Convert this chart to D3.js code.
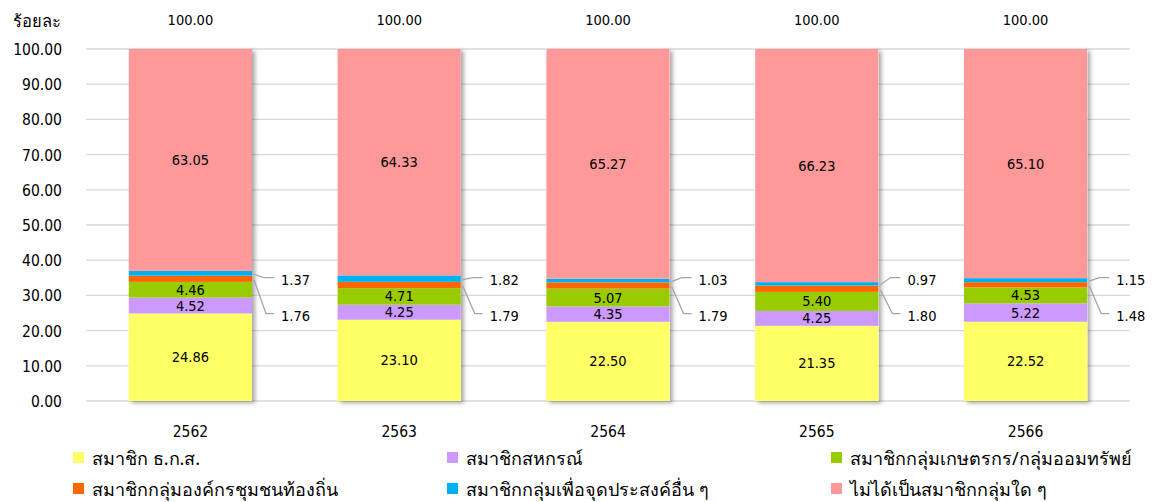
<!DOCTYPE html>
<html><head><meta charset="utf-8">
<script src="https://cdn.jsdelivr.net/npm/d3@7"></script>
<style>
body{margin:0;background:#fff;}
text{font-family:"DejaVu Sans Condensed","DejaVu Sans",sans-serif;font-stretch:condensed;fill:#000;}
text.th{font-family:Tahoma,"Noto Sans","DejaVu Sans",sans-serif;font-stretch:normal;}
</style></head>
<body>
<svg id="chart" width="1161" height="502"></svg>
<script>
const years = ["2562","2563","2564","2565","2566"];
const seriesNames = ["สมาชิก ธ.ก.ส.","สมาชิกสหกรณ์","สมาชิกกลุ่มเกษตรกร/กลุ่มออมทรัพย์","สมาชิกกลุ่มองค์กรชุมชนท้องถิ่น","สมาชิกกลุ่มเพื่อจุดประสงค์อื่น ๆ","ไม่ได้เป็นสมาชิกกลุ่มใด ๆ"];
const baac = [24.86,23.10,22.50,21.35,22.52];
const coop = [4.52,4.25,4.35,4.25,5.22];
const farmer = [4.46,4.71,5.07,5.40,4.53];
const community = [1.76,1.79,1.79,1.80,1.48];
const otherGroup = [1.37,1.82,1.03,0.97,1.15];
const none = [63.05,64.33,65.27,66.23,65.10];
const totals = [100.00,100.00,100.00,100.00,100.00];
const yTicks = [0,10,20,30,40,50,60,70,80,90,100];
const colors = ["#FFFF66","#CC99FF","#99CC00","#FF6600","#00B0F0","#FF9999"];

const svg = d3.select("#chart");
const x = d3.scaleBand().domain(years).range([86,1130]).paddingInner(0.41).paddingOuter(0.205);
const y = d3.scaleLinear().domain([0,100]).range([401,49]);
const fmt = d3.format(".2f");

const defs = svg.append("defs");
const f = defs.append("filter").attr("id","sh").attr("x","-10%").attr("y","-10%").attr("width","130%").attr("height","130%");
f.append("feDropShadow").attr("dx",3).attr("dy",2).attr("stdDeviation",2).attr("flood-color","#000").attr("flood-opacity",0.35);

// grid
svg.append("g").selectAll("line").data(yTicks).join("line")
  .attr("x1",86).attr("x2",1130).attr("y1",d=>y(d)).attr("y2",d=>y(d))
  .attr("stroke","#D9D9D9").attr("stroke-width",1.3);

// y axis labels
const yAxis = d3.axisLeft(y).tickValues(yTicks).tickFormat(fmt).tickSize(0).tickPadding(24);
const ya = svg.append("g").attr("transform","translate(86,0)").call(yAxis);
ya.select(".domain").remove();
ya.selectAll("text").attr("font-size",15.5).attr("font-family",null).attr("dy","0.35em");
ya.attr("font-family",null);

svg.append("text").attr("class","th").attr("x",13).attr("y",27).attr("font-size",16.5).text("ร้อยละ");

// stack
const rows = years.map((yr,i)=>({year:yr, s0:baac[i], s1:coop[i], s2:farmer[i], s3:community[i], s4:otherGroup[i], s5:none[i]}));
const keys = ["s0","s1","s2","s3","s4","s5"];
const stack = d3.stack().keys(keys)(rows);

const barG = svg.append("g");
barG.selectAll("rect.shadow").data(rows).join("rect")
  .attr("x",d=>x(d.year)).attr("width",x.bandwidth())
  .attr("y",y(100)).attr("height",y(0)-y(100))
  .attr("fill","#fff").attr("filter","url(#sh)");

stack.forEach((layer,k)=>{
  barG.append("g").selectAll("rect").data(layer).join("rect")
    .attr("x",d=>x(d.data.year)).attr("width",x.bandwidth())
    .attr("y",d=>y(d[1])).attr("height",d=>y(d[0])-y(d[1]))
    .attr("fill",colors[k]);
});

// inside labels
[0,1,2,5].forEach(k=>{
  svg.append("g").selectAll("text").data(stack[k]).join("text")
    .attr("x",d=>x(d.data.year)+x.bandwidth()/2)
    .attr("y",d=>(y(d[0])+y(d[1]))/2 + 5)
    .attr("text-anchor","middle").attr("font-size",14.5)
    .text(d=>fmt(d[1]-d[0]));
});

// leader labels for small segments
const lg = svg.append("g");
const blueLabelY = y(34.5), orangeLabelY = y(34.5) + 36;
rows.forEach((r,i)=>{
  const xr = x(r.year)+x.bandwidth();
  const b = stack[4][i], o = stack[3][i];
  const by = (y(b[0])+y(b[1]))/2, oy = (y(o[0])+y(o[1]))/2;
  lg.append("path").attr("d",`M${xr+2},${by+1}L${xr+12},${blueLabelY-2}L${xr+22},${blueLabelY-2}`)
    .attr("fill","none").attr("stroke","#A6A6A6").attr("stroke-width",1.3);
  lg.append("text").attr("x",xr+29).attr("y",blueLabelY+5).attr("font-size",14.5).text(fmt(otherGroup[i]));
  lg.append("path").attr("d",`M${xr+2},${oy+1}L${xr+14},${orangeLabelY-2}L${xr+22},${orangeLabelY-2}`)
    .attr("fill","none").attr("stroke","#A6A6A6").attr("stroke-width",1.3);
  lg.append("text").attr("x",xr+29).attr("y",orangeLabelY+5).attr("font-size",14.5).text(fmt(community[i]));
});

// totals
svg.append("g").selectAll("text").data(years).join("text")
  .attr("x",d=>x(d)+x.bandwidth()/2).attr("y",25).attr("text-anchor","middle").attr("font-size",14.5)
  .text((d,i)=>fmt(totals[i]));

// x axis labels
const xa = svg.append("g").attr("transform","translate(0,401)").call(d3.axisBottom(x).tickSize(0).tickPadding(25));
xa.select(".domain").remove();
xa.attr("font-family",null);
xa.selectAll("text").attr("font-size",15.5);

// legend
const legPos = [[73,458],[447,458],[831,458],[73,489],[447,489],[831,489]];
const leg = svg.append("g");
seriesNames.forEach((n,k)=>{
  const [lx,ly] = legPos[k];
  leg.append("rect").attr("x",lx).attr("y",ly-6).attr("width",11).attr("height",11).attr("fill",colors[k]);
  leg.append("text").attr("class","th").attr("x",lx+19).attr("y",ly+7).attr("font-size",18).text(n);
});
</script>
</body></html>
